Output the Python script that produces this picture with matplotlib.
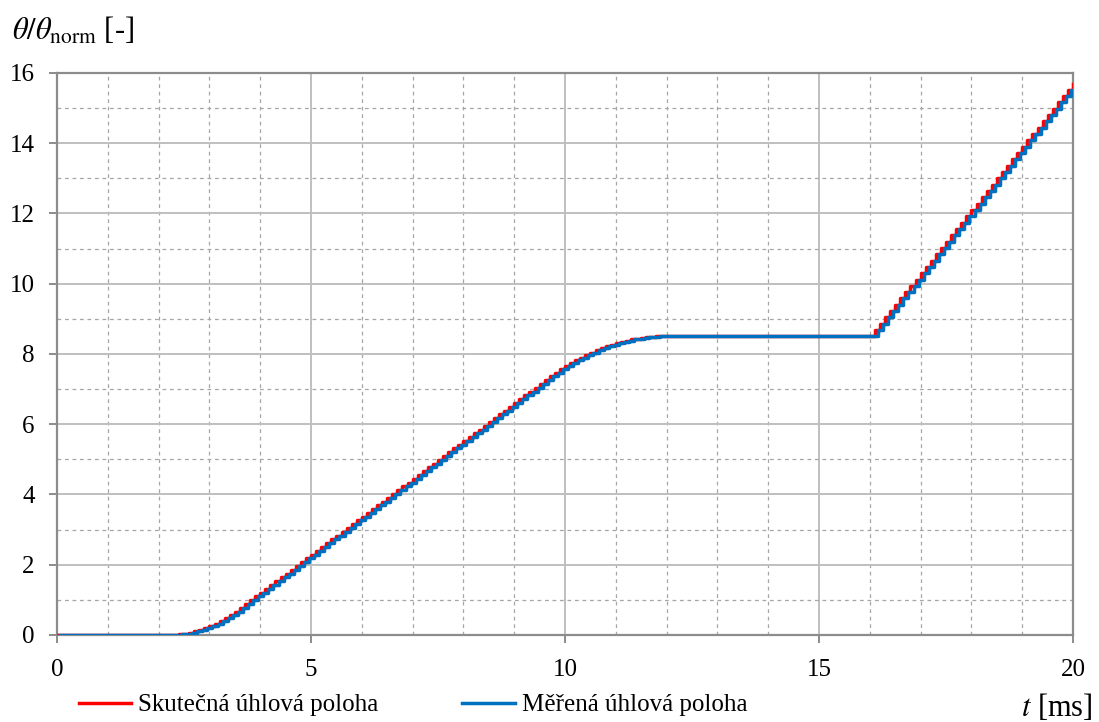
import numpy as np
import matplotlib
matplotlib.use('Agg')
import matplotlib.pyplot as plt
from matplotlib.ticker import MultipleLocator

plt.rcParams['font.family'] = ['Liberation Serif', 'DejaVu Serif']
plt.rcParams['mathtext.fontset'] = 'stix'

SAMPLE_PERIOD = 0.1   # ms
MEAS_DELAY = 0.06     # ms, measured signal lags a little

rest = [0.0] * 23  # 0.0 .. 2.2 ms
accel = [0.00, 0.02, 0.04, 0.06, 0.10, 0.14, 0.19, 0.25, 0.32, 0.39,
         0.47, 0.56, 0.66]  # 2.3 .. 3.5 ms
cruise = [0.77, 0.88, 0.99, 1.10, 1.20, 1.31, 1.42, 1.53, 1.64, 1.74,
          1.85, 1.96, 2.07, 2.18, 2.28, 2.39, 2.50, 2.61, 2.72, 2.82,
          2.93, 3.04, 3.15, 3.26, 3.36, 3.47, 3.58, 3.69, 3.80, 3.90,
          4.01, 4.12, 4.23, 4.34, 4.44, 4.55, 4.66, 4.77, 4.88, 4.98,
          5.09, 5.20, 5.31, 5.42, 5.52, 5.63, 5.74, 5.85, 5.96, 6.06,
          6.17, 6.28, 6.39, 6.50, 6.60, 6.71, 6.82, 6.93, 7.04, 7.14,
          7.25]  # 3.6 .. 9.6 ms
decel = [7.36, 7.46, 7.56, 7.65, 7.74, 7.82, 7.90, 7.97, 8.04, 8.10,
         8.16, 8.22, 8.27, 8.31, 8.35, 8.38, 8.42, 8.44, 8.46, 8.48,
         8.49, 8.50]  # 9.7 .. 11.8 ms
hold = [8.50] * 42  # 11.9 .. 16.0 ms
ramp = [8.68, 8.86, 9.04, 9.22, 9.40, 9.58, 9.76, 9.94, 10.12, 10.30,
        10.48, 10.66, 10.84, 11.02, 11.20, 11.38, 11.56, 11.74, 11.92, 12.10,
        12.28, 12.46, 12.64, 12.82, 13.00, 13.18, 13.36, 13.54, 13.72, 13.90,
        14.08, 14.26, 14.44, 14.62, 14.80, 14.98, 15.16, 15.34, 15.52, 15.70]  # 16.1 .. 20.0 ms

position = np.array(rest + accel + cruise + decel + hold + ramp)
t = np.arange(len(position)) * SAMPLE_PERIOD

labels = ['Skutečná úhlová poloha', 'Měřená úhlová poloha']
colors = ['#ff0000', '#0070c0']

fig = plt.figure(figsize=(10.99, 7.22), dpi=100)
ax = fig.add_axes([0.0519, 0.1205, 0.9245, 0.7784])

ax.step(t, position, where='post', color=colors[0], lw=2.5, label=labels[0], zorder=3)
ax.step(t + MEAS_DELAY, position, where='post', color=colors[1], lw=2.5, label=labels[1], zorder=4)

ax.set_xlim(0, 20)
ax.set_ylim(0, 16)
ax.xaxis.set_major_locator(MultipleLocator(5))
ax.xaxis.set_minor_locator(MultipleLocator(1))
ax.yaxis.set_major_locator(MultipleLocator(2))
ax.yaxis.set_minor_locator(MultipleLocator(1))

ax.grid(which='major', color='#bfbfbf', lw=1.4, ls='-', zorder=0)
ax.grid(which='minor', color='#a6a6a6', lw=0.9, ls=(0, (3, 3)), zorder=0)
ax.set_axisbelow(True)

for s in ax.spines.values():
    s.set_color('#8c8c8c')
    s.set_linewidth(1.6)

ax.tick_params(which='major', direction='out', length=6, width=1.4, color='#8c8c8c',
               labelsize=18, labelcolor='black')
ax.tick_params(axis='y', which='major', pad=10)
ax.tick_params(axis='x', which='major', pad=11)
ax.tick_params(which='minor', length=0)

fig.text(0.011, 0.957, r'$\theta/\theta_{\mathrm{norm}}$ [-]', fontsize=22, va='center', ha='left')
fig.text(0.994, 0.02, r'$t$ [ms]', fontsize=22, va='center', ha='right')

fig.legend(loc='center left', bbox_to_anchor=(0.051, 0.0235), ncol=2, frameon=False,
           fontsize=18, handlelength=2.1, handletextpad=0.28, columnspacing=3.35)

fig.savefig('out.png', dpi=100)
